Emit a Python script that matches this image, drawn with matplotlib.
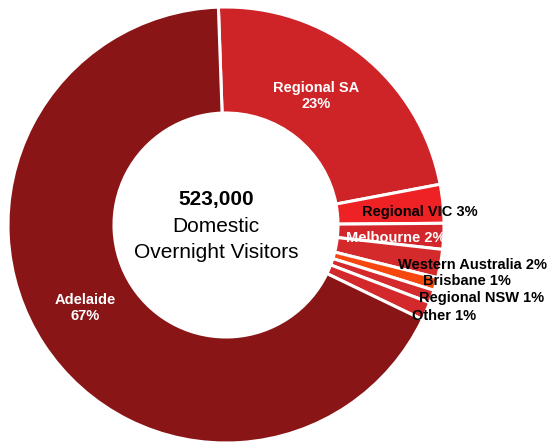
import matplotlib.pyplot as plt

# visitors by origin, thousands
origins = ['Regional SA', 'Regional VIC', 'Melbourne', 'Western Australia',
           'Brisbane', 'Regional NSW', 'Other', 'Adelaide']
visitors = [118, 15, 10, 11, 5, 5, 7, 352]
colours = ['#CE2327', '#EE2125', '#D2262B', '#D42A2C', '#F6470F',
           '#D42A2E', '#D3282C', '#8A1517']
label_colours = ['white', 'black', 'white', 'black', 'black', 'black', 'black', 'white']
total_label = '523,000'

W, H = 547, 445
fig = plt.figure(figsize=(W / 100, H / 100), dpi=100)
ax = fig.add_axes([0, 0, 1, 1])

cx, cy = 226, H - 225
ax.pie(visitors, colors=colours, startangle=92, counterclock=False,
       radius=218, center=(cx, cy),
       wedgeprops=dict(width=106, edgecolor='white', linewidth=2.2))
ax.set_xlim(0, W)
ax.set_ylim(0, H)
ax.set_aspect('equal')
ax.axis('off')

total = sum(visitors)
# label positions in pixels from top-left
label_pos = [(316, 96), (420, 212), (396, 238), (473, 265),
             (467, 281), (482, 298), (444, 316), (85, 308)]
for name, v, col, (px, py) in zip(origins, visitors, label_colours, label_pos):
    pct = round(v / total * 100)
    if name in ('Regional SA', 'Adelaide'):
        txt = f'{name}\n{pct}%'
    else:
        txt = f'{name} {pct}%'
    ax.text(px, H - py, txt, ha='center', va='center', color=col,
            fontsize=10.5, fontweight='bold', family='Liberation Sans',
            linespacing=1.25)

ax.text(216, H - 199, total_label, ha='center', va='center', fontsize=15,
        fontweight='bold', family='Liberation Sans')
ax.text(216, H - 226, 'Domestic', ha='center', va='center', fontsize=15,
        family='Liberation Sans')
ax.text(216, H - 253, 'Overnight Visitors', ha='center', va='center', fontsize=15,
        family='Liberation Sans')

fig.savefig('out.png', dpi=100)
